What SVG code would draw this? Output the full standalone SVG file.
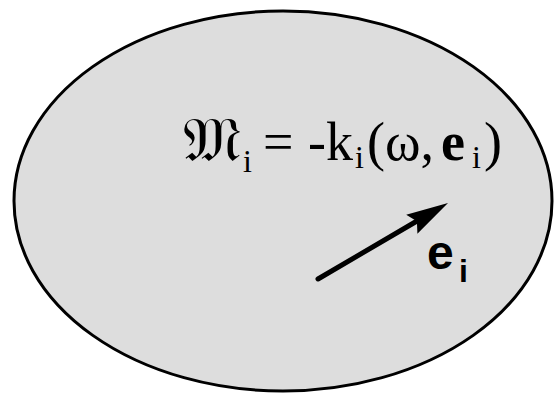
<svg xmlns="http://www.w3.org/2000/svg" width="555" height="398" viewBox="0 0 555 398">
<style>
.m{font-family:"Liberation Serif","DejaVu Serif",serif;font-size:54px;fill:#000}
.s{font-family:"Liberation Serif","DejaVu Serif",serif;font-size:32px;fill:#000}
.b{font-weight:bold}
.v{font-family:"Liberation Sans",Arial,sans-serif;font-weight:bold;fill:#000}
</style>
<rect width="555" height="398" fill="#fff"/>
<g id="region">
<ellipse cx="283" cy="201" rx="269" ry="190" fill="#dddddd" stroke="#000" stroke-width="3"/>
</g>
<g id="formula">
<text class="m" x="183" y="161" style="font-size:63px">𝔐</text>
<text class="s" x="243" y="172">i</text>
<text class="m" x="263" y="160">=</text>
<text class="m" x="308" y="160">-k</text>
<text class="s" x="355" y="168">i</text>
<text class="m" x="367" y="160">(ω,</text>
<text class="m b" x="441" y="160">e</text>
<text class="s" x="472" y="168">i</text>
<text class="m" x="484" y="160">)</text>
</g>
<g id="connectors">
<line x1="318" y1="279" x2="417" y2="221" stroke="#000" stroke-width="5" stroke-linecap="round"/>
<path d="M448,203 L406.2,214.7 L416.9,221.2 L417.4,233.7 Z" fill="#000"/>
</g>
<g id="label">
<text class="v" x="427" y="269" font-size="48">e</text>
<text class="v" x="459" y="282" font-size="32">i</text>
</g>
</svg>
